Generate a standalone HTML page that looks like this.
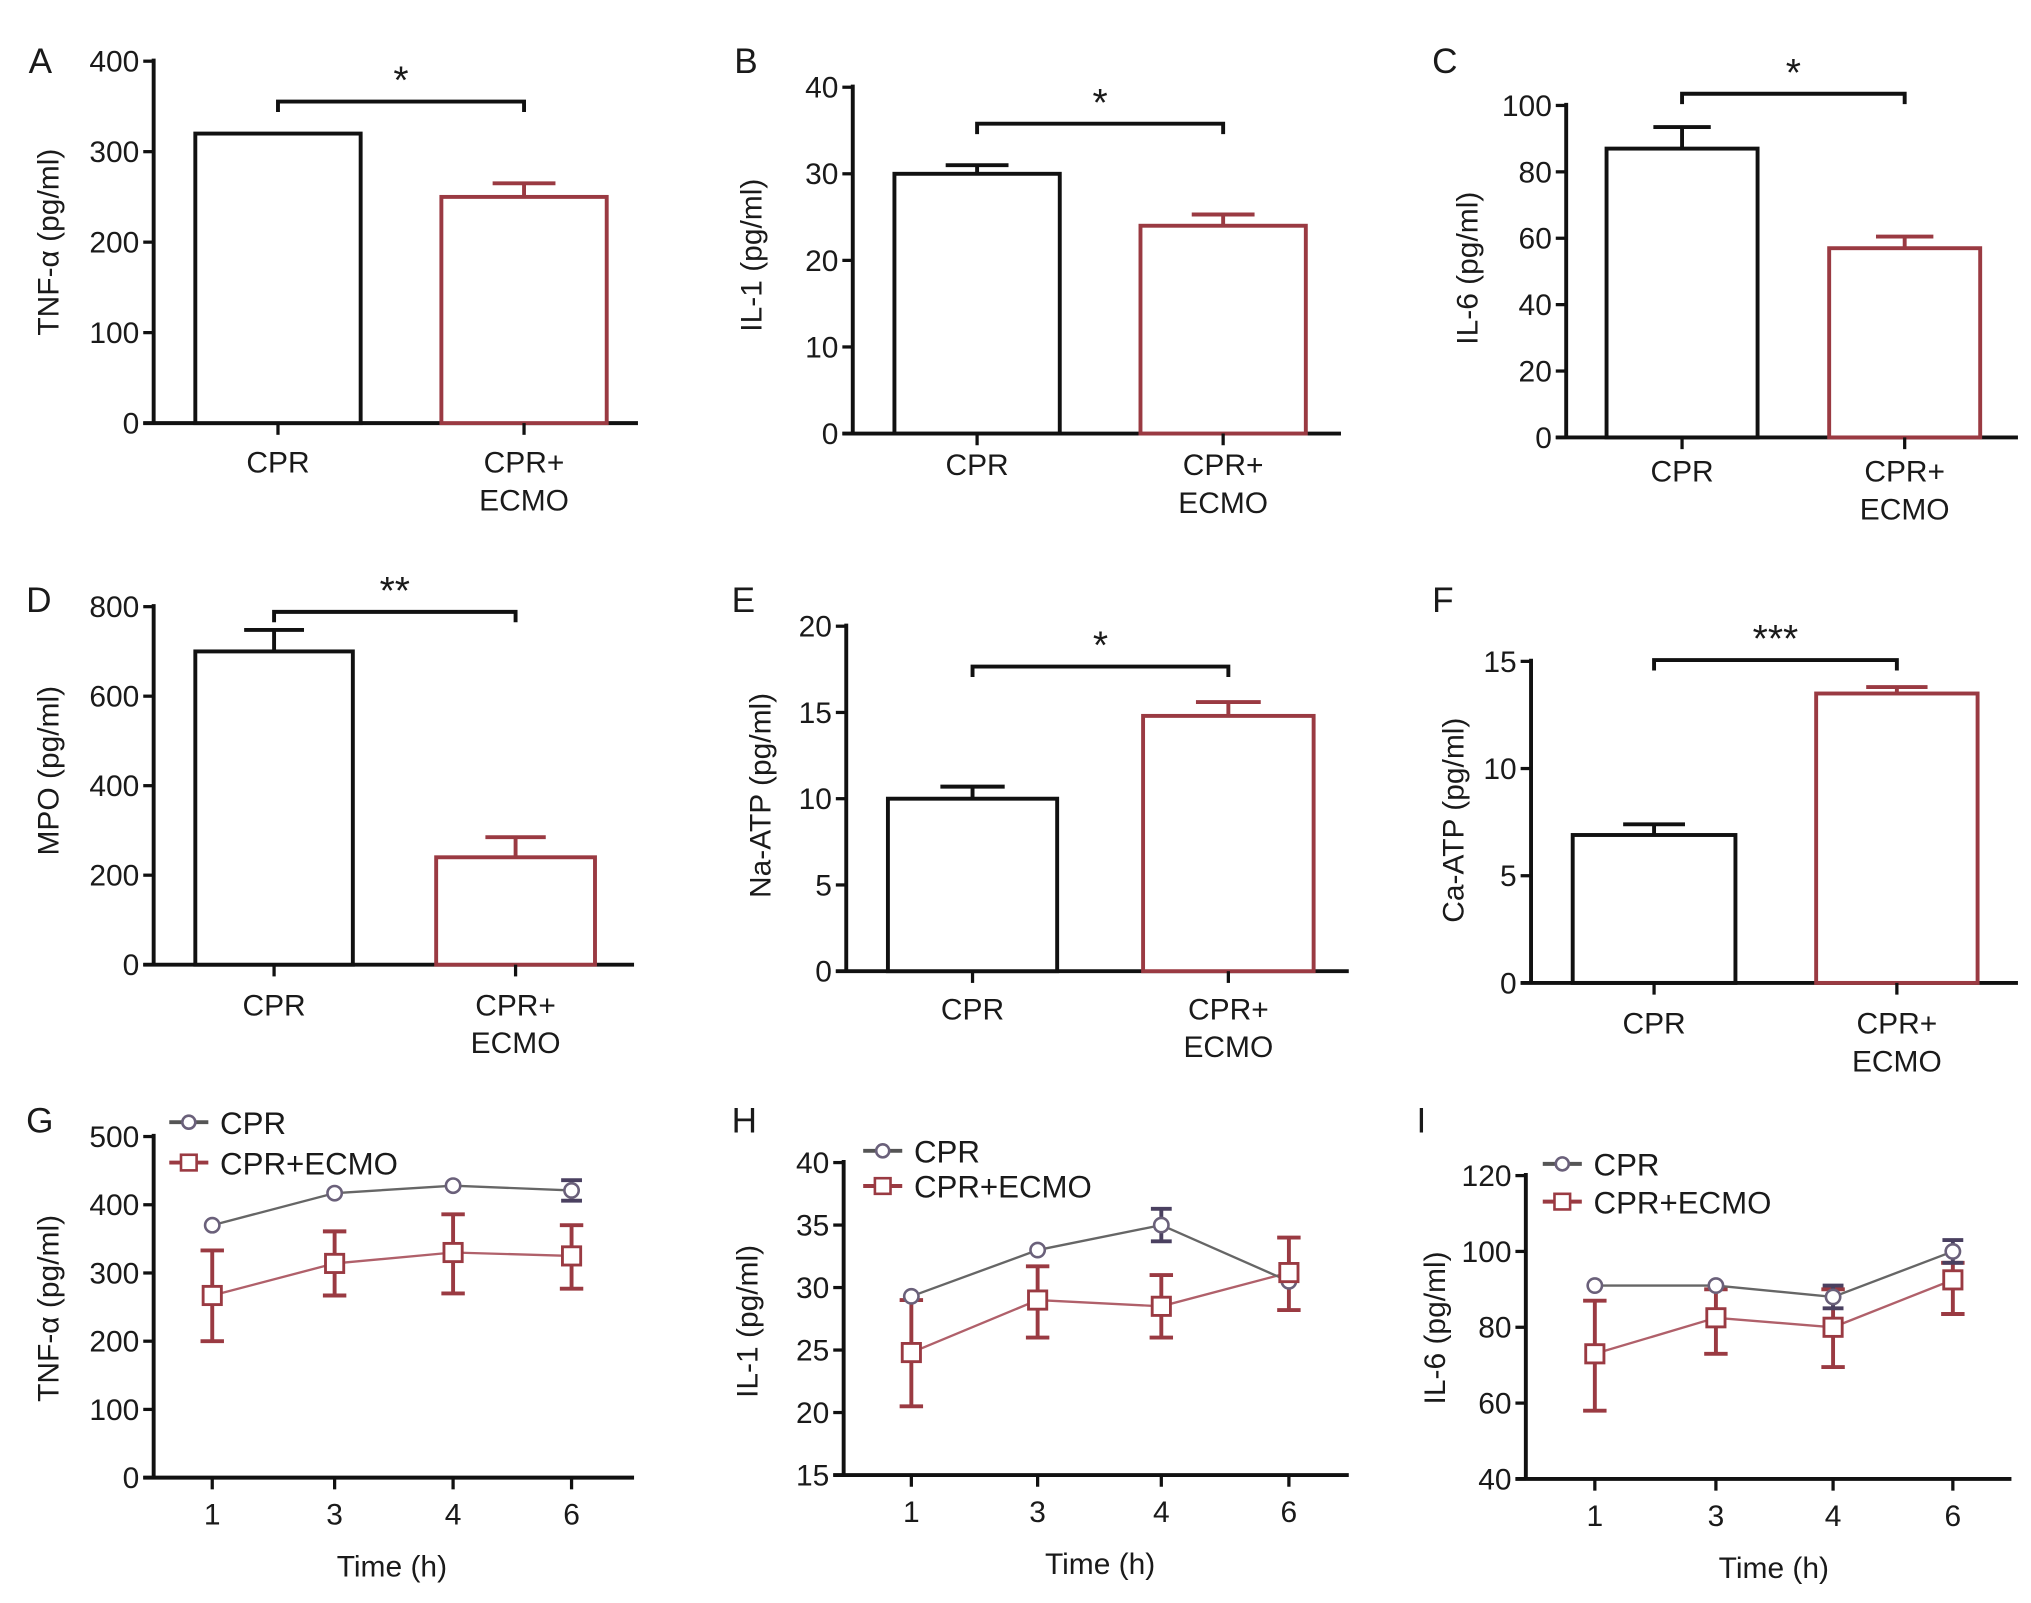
<!DOCTYPE html>
<html><head><meta charset="utf-8"><style>
html,body{margin:0;padding:0;background:#fff}
svg{display:block}
text{font-family:"Liberation Sans",Arial,sans-serif;fill:#1a1a1a}
</style></head><body>
<svg id="fig" width="2031" height="1603" viewBox="0 0 1560 1231.3" xmlns="http://www.w3.org/2000/svg"></svg>
<script>
// ---- Bar panel data ----
const barCats = ["CPR", "CPR+ECMO"];
const barA = [320, 250]; const errA = [0, 265];
const barB = [30, 24]; const errB = [31, 25.3];
const barC = [87, 57]; const errC = [93.5, 60.5];
const barD = [700, 240]; const errD = [748, 285];
const barE = [10, 14.8]; const errE = [10.7, 15.6];
const barF = [6.9, 13.5]; const errF = [7.4, 13.8];
const ticksA = [0,100,200,300,400];
const ticksB = [0,10,20,30,40];
const ticksC = [0,20,40,60,80,100];
const ticksD = [0,200,400,600,800];
const ticksE = [0,5,10,15,20];
const ticksF = [0,5,10,15];
const sigA = "*", sigB = "*", sigC = "*", sigD = "**", sigE = "*", sigF = "***";
// ---- Line panel data ----
const times = ["1","3","4","6"];
const cprG = [370, 417, 428, 421]; const cprGerr = [0, 0, 0, 15];
const ecG = [267, 314, 330, 325]; const ecGhi = [333, 361, 386, 370]; const ecGlo = [200, 267, 270, 277];
const cprH = [29.3, 33, 35, 30.5]; const cprHerr = [0, 0, 1.3, 0];
const ecH = [24.8, 29, 28.5, 31.2]; const ecHhi = [29, 31.7, 31, 34]; const ecHlo = [20.5, 26, 26, 28.2];
const cprI = [91, 91, 88, 100]; const cprIerr = [0, 0, 3, 3];
const ecI = [73, 82.5, 80, 92.5]; const ecIhi = [87, 90, 90, 97]; const ecIlo = [58, 73, 69.5, 83.5];
const ticksG = [0,100,200,300,400,500];
const ticksH = [15,20,25,30,35,40];
const ticksI = [40,60,80,100,120];

const svg = document.getElementById('fig');
const NS = "http://www.w3.org/2000/svg";
const RED = "#9a3a42", BLK = "#111";
function el(tag, attrs, parent){ const e=document.createElementNS(NS,tag); for(const k in attrs) e.setAttribute(k,attrs[k]); (parent||svg).appendChild(e); return e; }
function txt(s, x, y, attrs, parent){ const t=el('text', Object.assign({x:x,y:y},attrs), parent); t.textContent=s; return t; }

function axes(g, p, ticks, title){
  const ys = v => p.y0 + (v - ticks[0])/(ticks[ticks.length-1]-ticks[0])*(p.yTop - p.y0);
  const ya = el('line',{x1:p.ax,y1:p.yTop-2,x2:p.ax,y2:p.y0+1,stroke:BLK,'stroke-width':3},g);
   
  const xa = el('line',{x1:p.ax-8,y1:p.y0,x2:p.xEnd,y2:p.y0,stroke:BLK,'stroke-width':3},g);
   
  ticks.forEach(v=>{
    const y=ys(v);
    el('line',{x1:p.ax-8,y1:y,x2:p.ax,y2:y,stroke:BLK,'stroke-width':2.5},g);
    const t=txt(String(v),p.ax-11,y+8,{'font-size':23,'text-anchor':'end'},g);
     
  });
  const tt=txt(title,0,0,{'font-size':23,'text-anchor':'middle',transform:`translate(${p.tx},${p.ty}) rotate(-90)`},g);
   
  const pl=txt(p.label,p.lx,p.ly,{'font-size':27},g);
   
  return ys;
}

function barPanel(p, vals, errs, ticks, title, sig, name){
  const g=el('g',{});
   
  const ys=axes(g,p,ticks,title);
  const cols=[BLK,RED];
  vals.forEach((v,i)=>{
    const [x1,x2]=p.bars[i]; const cx=(x1+x2)/2;
    if(errs[i]>v){
      el('line',{x1:cx,y1:ys(v),x2:cx,y2:ys(errs[i]),stroke:cols[i],'stroke-width':3},g);
      el('line',{x1:cx-(x2-x1)*0.19,y1:ys(errs[i]),x2:cx+(x2-x1)*0.19,y2:ys(errs[i]),stroke:cols[i],'stroke-width':3},g);
    }
    const r=el('rect',{x:x1,y:ys(v),width:x2-x1,height:p.y0-ys(v),fill:'#fff',stroke:cols[i],'stroke-width':3},g);
     
    el('line',{x1:cx,y1:p.y0,x2:cx,y2:p.y0+9,stroke:BLK,'stroke-width':2.5},g);
    if(i===0){ const t=txt('CPR',cx,p.labY,{'font-size':23,'text-anchor':'middle'},g);   }
    else { const t=txt('CPR+',cx,p.labY,{'font-size':23,'text-anchor':'middle'},g);  
      const t2=txt('ECMO',cx,p.labY+29,{'font-size':23,'text-anchor':'middle'},g);   }
  });
  const c1=(p.bars[0][0]+p.bars[0][1])/2, c2=(p.bars[1][0]+p.bars[1][1])/2;
  const b=el('path',{d:`M${c1} ${p.brY+8} V${p.brY} H${c2} V${p.brY+8}`,fill:'none',stroke:BLK,'stroke-width':3},g);
   
  const s=txt(sig,(c1+c2)/2,p.brY-6,{'font-size':30,'text-anchor':'middle'},g);
   
}

function linePanel(p, cpr, cprErr, ec, ecHi, ecLo, ticks, title, name){
  const g=el('g',{});
   
  const ys=axes(g,p,ticks,title);
  const xs=i=>p.xt[i];
  times.forEach((t,i)=>{
    el('line',{x1:xs(i),y1:p.y0,x2:xs(i),y2:p.y0+9,stroke:BLK,'stroke-width':2.5},g);
    const l=txt(t,xs(i),p.y0+36,{'font-size':23,'text-anchor':'middle'},g);
     
  });
  const xt=txt('Time (h)',(xs(0)+xs(3))/2,p.y0+76,{'font-size':23,'text-anchor':'middle'},g);
   
  // ECMO
  ec.forEach((v,i)=>{
    el('line',{x1:xs(i),y1:ys(ecHi[i]),x2:xs(i),y2:ys(ecLo[i]),stroke:RED,'stroke-width':3},g);
    [ecHi[i],ecLo[i]].forEach(w=>el('line',{x1:xs(i)-9,y1:ys(w),x2:xs(i)+9,y2:ys(w),stroke:RED,'stroke-width':3},g));
  });
  const pe=el('polyline',{points:ec.map((v,i)=>xs(i)+','+ys(v)).join(' '),fill:'none',stroke:'#b0606a','stroke-width':1.8},g);
   
  // CPR
  cpr.forEach((v,i)=>{ if(cprErr[i]>0){
    el('line',{x1:xs(i),y1:ys(v+cprErr[i]),x2:xs(i),y2:ys(v-cprErr[i]),stroke:'#4a4060','stroke-width':3},g);
    [v+cprErr[i],v-cprErr[i]].forEach(w=>el('line',{x1:xs(i)-8,y1:ys(w),x2:xs(i)+8,y2:ys(w),stroke:'#4a4060','stroke-width':3},g));
  }});
  const pc=el('polyline',{points:cpr.map((v,i)=>xs(i)+','+ys(v)).join(' '),fill:'none',stroke:'#666','stroke-width':1.8},g);
   
  cpr.forEach((v,i)=>{ const c=el('circle',{cx:xs(i),cy:ys(v),r:5.5,fill:'#fff',stroke:'#6a607a','stroke-width':2},g);
      });
  ec.forEach((v,i)=>{ const r=el('rect',{x:xs(i)-7,y:ys(v)-7,width:14,height:14,fill:'#fff',stroke:RED,'stroke-width':2.2},g);
      });
  // legend
  const [lx,ly1,ly2]=p.leg;
  const lg=el('g',{},g);  
  el('line',{x1:lx-15,y1:ly1,x2:lx+15,y2:ly1,stroke:'#555','stroke-width':3},lg);
  el('circle',{cx:lx,cy:ly1,r:5,fill:'#fff',stroke:'#6a607a','stroke-width':2},lg);
  let t=txt('CPR',lx+24,ly1+9,{'font-size':24},lg);  
  el('line',{x1:lx-15,y1:ly2,x2:lx+15,y2:ly2,stroke:RED,'stroke-width':3},lg);
  el('rect',{x:lx-6,y:ly2-6,width:12,height:12,fill:'#fff',stroke:RED,'stroke-width':2},lg);
  t=txt('CPR+ECMO',lx+24,ly2+9,{'font-size':24},lg);  
}

barPanel({ax:118,yTop:47,y0:325,xEnd:490,bars:[[150,277],[339,466]],brY:78,labY:363,tx:45,ty:186,label:'A',lx:22,ly:56},barA,errA,ticksA,'TNF-α (pg/ml)',sigA,'panel-a-tnf');
barPanel({ax:655,yTop:67,y0:333,xEnd:1030,bars:[[687,814],[876,1003]],brY:95,labY:365,tx:585,ty:196,label:'B',lx:564,ly:56},barB,errB,ticksB,'IL-1 (pg/ml)',sigB,'panel-b-il1');
barPanel({ax:1203,yTop:81,y0:336,xEnd:1550,bars:[[1234,1350],[1405,1521]],brY:72,labY:370,tx:1135,ty:206,label:'C',lx:1100,ly:56},barC,errC,ticksC,'IL-6 (pg/ml)',sigC,'panel-c-il6');
barPanel({ax:118,yTop:466,y0:741,xEnd:487,bars:[[150,271],[335,457]],brY:470,labY:780,tx:45,ty:592,label:'D',lx:20,ly:470},barD,errD,ticksD,'MPO (pg/ml)',sigD,'panel-d-mpo');
barPanel({ax:650,yTop:481,y0:746,xEnd:1036,bars:[[682,812],[878,1009]],brY:512,labY:783,tx:592,ty:611,label:'E',lx:562,ly:470},barE,errE,ticksE,'Na-ATP (pg/ml)',sigE,'panel-e-na-atp');
barPanel({ax:1176,yTop:508,y0:755,xEnd:1550,bars:[[1208,1333],[1395,1519]],brY:507,labY:794,tx:1124,ty:630,label:'F',lx:1100,ly:470},barF,errF,ticksF,'Ca-ATP (pg/ml)',sigF,'panel-f-ca-atp');

linePanel({ax:118,yTop:873,y0:1135,xEnd:487,xt:[163,257,348,439],leg:[145,862,893],tx:45,ty:1005,label:'G',lx:20,ly:870},cprG,cprGerr,ecG,ecGhi,ecGlo,ticksG,'TNF-α (pg/ml)','panel-g-tnf-time');
linePanel({ax:648,yTop:893,y0:1133,xEnd:1036,xt:[700,797,892,990],leg:[678,884,911],tx:582,ty:1015,label:'H',lx:562,ly:870},cprH,cprHerr,ecH,ecHhi,ecHlo,ticksH,'IL-1 (pg/ml)','panel-h-il1-time');
linePanel({ax:1172,yTop:903,y0:1136,xEnd:1545,xt:[1225,1318,1408,1500],leg:[1200,894,923],tx:1110,ty:1020,label:'I',lx:1088,ly:870},cprI,cprIerr,ecI,ecIhi,ecIlo,ticksI,'IL-6 (pg/ml)','panel-i-il6-time');
</script>
</body></html>
